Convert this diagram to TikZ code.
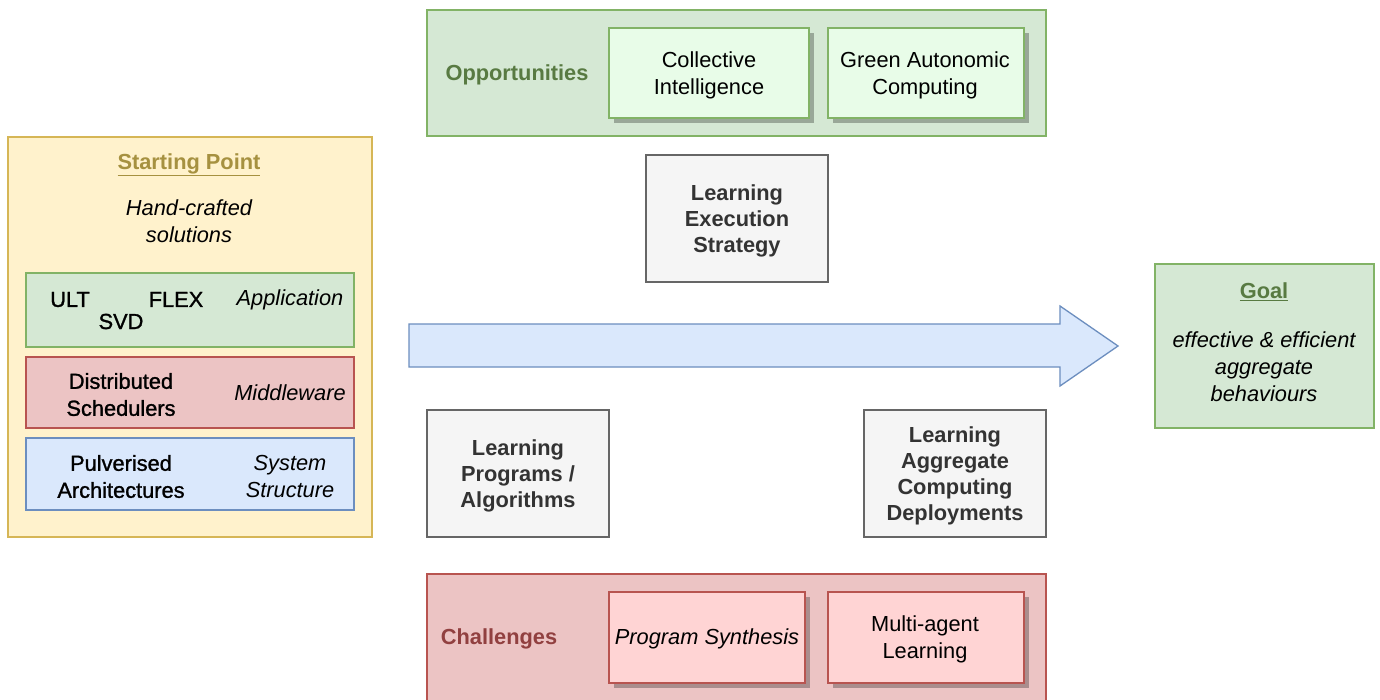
\documentclass[tikz,border=0pt]{standalone}
\usepackage{fontspec}
\setmainfont{Liberation Sans}
\newfontfamily\medfont[FakeBold=1.2]{Liberation Sans}
\usetikzlibrary{shadows}
\definecolor{ylfill}{HTML}{FFF2CC}
\definecolor{yldraw}{HTML}{D6B656}
\definecolor{yltext}{RGB}{166,145,64}
\definecolor{gnfill}{HTML}{D5E8D4}
\definecolor{gndraw}{HTML}{82B366}
\definecolor{gntext}{RGB}{88,122,66}
\definecolor{gninner}{RGB}{232,252,232}
\definecolor{rdfill}{RGB}{236,196,196}
\definecolor{rddraw}{HTML}{B85450}
\definecolor{rdtext}{RGB}{145,64,64}
\definecolor{rdinner}{RGB}{255,212,212}
\definecolor{blfill}{HTML}{DAE8FC}
\definecolor{bldraw}{HTML}{6C8EBF}
\definecolor{gyfill}{HTML}{F5F5F5}
\definecolor{gydraw}{HTML}{666666}
\definecolor{gytext}{HTML}{333333}
\tikzset{
  box/.style={draw, line width=1.3pt, minimum width=#1, inner sep=0pt, outer sep=0pt},
  txt/.style={align=center, font=\fontsize{21.8}{27}\selectfont, inner sep=0pt, yshift=-1.5pt},
  mtxt/.style={txt, font=\fontsize{21.8}{27}\selectfont\medfont},
  itxt/.style={txt, font=\fontsize{21.8}{27}\selectfont\itshape},
  btxt/.style={txt, font=\fontsize{21.8}{26}\selectfont\bfseries},
  shd/.style={drop shadow={shadow xshift=5pt, shadow yshift=-5pt, fill=black, opacity=0.28}},
}
\begin{document}
\begin{tikzpicture}[x=1pt,y=-1pt]
\useasboundingbox (0,0) rectangle (1380,700);
\fill[white] (0,0) rectangle (1380,700);
% Starting point
\node[box=364pt, minimum height=400pt, fill=ylfill, draw=yldraw] (start) at (190,337) {};
\node[btxt, text=yltext] (starttitle) at (189,163) {\underline{Starting Point}};
\node[itxt] (hand) at (189,220) {Hand-crafted\\solutions};
\node[box=328pt, minimum height=74pt, fill=gnfill, draw=gndraw] (app) at (190,310) {};
\node[mtxt] (ult) at (70,298) {ULT};
\node[mtxt] (svd) at (121,320) {SVD};
\node[mtxt] (flex) at (176,298) {FLEX};
\node[itxt] (appl) at (290,298) {Application};
\node[box=328pt, minimum height=71pt, fill=rdfill, draw=rddraw] (mid) at (190,392.5) {};
\node[mtxt] (dist) at (121,393) {Distributed\\Schedulers};
\node[itxt] (midl) at (290,391) {Middleware};
\node[box=328pt, minimum height=72pt, fill=blfill, draw=bldraw] (sys) at (190,474) {};
\node[mtxt] (pulv) at (121,475) {Pulverised\\Architectures};
\node[itxt] (sysl) at (290,475) {System\\Structure};
% Opportunities
\node[box=619pt, minimum height=126pt, fill=gnfill, draw=gndraw] (opp) at (736.5,73) {};
\node[btxt, text=gntext] (oppl) at (517,73) {Opportunities};
\node[box=200pt, minimum height=90pt, fill=gninner, draw=gndraw, shd] (ci) at (709,73) {};
\node[txt] (cit) at (709,74) {Collective\\Intelligence};
\node[box=196pt, minimum height=90pt, fill=gninner, draw=gndraw, shd] (gac) at (926,73) {};
\node[txt] (gact) at (925,74) {Green Autonomic\\Computing};
% Challenges
\node[box=619pt, minimum height=136pt, fill=rdfill, draw=rddraw] (chal) at (736.5,642) {};
\node[btxt, text=rdtext] (chall) at (499,637) {Challenges};
\node[box=196pt, minimum height=91pt, fill=rdinner, draw=rddraw, shd] (ps) at (707,637.5) {};
\node[itxt] (pst) at (707,637) {Program Synthesis};
\node[box=196pt, minimum height=91pt, fill=rdinner, draw=rddraw, shd] (mal) at (926,637.5) {};
\node[txt] (malt) at (925,638) {Multi-agent\\Learning};
% Grey boxes
\node[box=182pt, minimum height=127pt, fill=gyfill, draw=gydraw] (les) at (737,218.5) {};
\node[btxt, text=gytext] (lest) at (737,219.5) {Learning\\Execution\\Strategy};
\node[box=182pt, minimum height=127pt, fill=gyfill, draw=gydraw] (lpa) at (518,473.5) {};
\node[btxt, text=gytext] (lpat) at (518,474.5) {Learning\\Programs /\\Algorithms};
\node[box=182pt, minimum height=127pt, fill=gyfill, draw=gydraw] (lacd) at (955,473.5) {};
\node[btxt, text=gytext] (lacdt) at (955,474.5) {Learning\\Aggregate\\Computing\\Deployments};
% Arrow
\draw[line width=1.3pt, fill=blfill, draw=bldraw, line join=miter]
  (409,324) -- (1060,324) -- (1060,306) -- (1118,346) -- (1060,386) -- (1060,367) -- (409,367) -- cycle;
% Goal
\node[box=219pt, minimum height=164pt, fill=gnfill, draw=gndraw] (goal) at (1264.5,346) {};
\node[btxt, text=gntext] (goalt) at (1264,290) {\underline{Goal}};
\node[itxt] (goald) at (1264,365) {effective \& efficient\\aggregate\\behaviours};
\end{tikzpicture}
\end{document}
